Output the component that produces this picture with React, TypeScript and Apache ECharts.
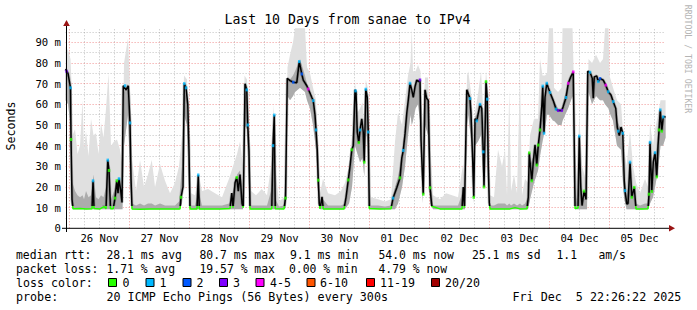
import React, { useEffect, useRef } from "react";
import * as echarts from "echarts";

// ---- time frame (hours from 26 Nov 00:00) ----
const startHour = -1.5667; // Nov 25 22:26
const endHour = 238.4333; // Dec 5 22:26
const dayLabels = ["26 Nov", "27 Nov", "28 Nov", "29 Nov", "30 Nov", "01 Dec", "02 Dec", "03 Dec", "04 Dec", "05 Dec"];
const dayLabelHours = [12, 36, 60, 84, 108, 132, 156, 180, 204, 228];
const dayStartHours = [0, 24, 48, 72, 96, 120, 144, 168, 192, 216];
const yTickValues = [0, 10, 20, 30, 40, 50, 60, 70, 80, 90];
const yTickLabels = ["0", "10 m", "20 m", "30 m", "40 m", "50 m", "60 m", "70 m", "80 m", "90 m"];
const yMax = 96.8;

// ---- median rtt (ms) ----
const medH = [
  -1.57, -0.6, 0.4, 0.6, 1.0, 1.4, 4.2, 6.6, 9.0, 9.4, 9.8, 12.2, 13.8, 14.6, 15.3, 15.8, 16.4, 17.5, 18.2, 18.9,
  19.4, 19.8, 20.5, 21.0, 21.5, 22.6, 23.5, 24.2, 24.6, 25.0, 28.2, 32.2, 36.2, 40.2, 44.2, 44.6, 45.4, 45.9, 46.6, 47.3,
  47.8, 48.2, 51.0, 51.5, 51.9, 56.2, 60.2, 64.2, 64.9, 65.4, 66.2, 66.9, 67.5, 68.2, 69.0, 69.5, 70.2, 70.9, 71.3, 71.8,
  72.2, 76.2, 80.2, 80.9, 81.4, 81.9, 82.3, 85.8, 86.4, 87.1, 88.2, 89.5, 90.9, 91.9, 92.9, 93.5, 94.9, 95.5, 96.9, 97.5,
  98.2, 98.6, 99.1, 99.5, 99.9, 100.2, 101.0, 101.5, 105.4, 109.8, 110.6, 111.5, 112.2, 112.9, 113.5, 114.2, 114.6, 115.1, 115.7, 116.2,
  116.9, 117.5, 117.9, 118.5, 119.1, 119.5, 119.9, 124.2, 128.6, 129.4, 130.9, 132.2, 132.9, 133.5, 134.2, 134.9, 135.5, 136.2, 136.9, 137.5,
  138.2, 138.9, 139.5, 140.2, 140.6, 141.5, 142.2, 142.9, 143.5, 144.2, 144.9, 148.2, 152.2, 157.0, 157.5, 158.0, 158.9, 160.2, 160.6, 161.3,
  161.7, 162.2, 162.9, 164.2, 164.9, 165.5, 165.8, 166.6, 167.1, 167.5, 167.9, 168.2, 172.2, 176.2, 178.2, 180.2, 183.0, 183.5, 183.9, 184.9,
  185.5, 186.2, 186.9, 187.5, 188.2, 188.9, 189.3, 189.8, 190.2, 190.9, 191.5, 192.2, 193.5, 194.6, 195.5, 196.9, 197.5, 198.6, 199.5, 200.5,
  201.5, 201.9, 202.2, 203.4, 203.9, 204.5, 205.0, 205.8, 206.6, 207.3, 208.2, 209.1, 209.5, 209.9, 210.9, 211.5, 212.2, 213.5, 214.5, 215.5,
  216.6, 217.5, 218.5, 219.1, 219.9, 220.6, 221.3, 221.9, 222.2, 222.9, 223.4, 224.2, 224.9, 225.9, 226.6, 229.0, 231.4, 231.8, 232.2, 232.9,
  233.5, 234.2, 234.9, 235.4, 235.8, 236.3, 236.9, 237.5, 238.43,
];
const medV = [
  77, 75, 68, 43, 14, 9.5, 9.6, 9.3, 9.5, 23, 9.6, 9.4, 10.5, 9.4, 33, 28, 9.5, 9.5, 14.6, 23,
  17, 24, 18, 12.5, 69, 67, 69, 51, 24, 9.4, 9.2, 9.3, 9.3, 9.4, 9.4, 15, 20, 70, 68, 60,
  37, 9.4, 9.4, 25.8, 9.4, 9.3, 9.4, 9.6, 17, 10, 22, 24.6, 18, 26, 12, 10, 70, 67, 50, 37,
  9.4, 9.3, 9.3, 9.5, 40, 54.8, 9.5, 9.4, 14.6, 72.6, 71.5, 70.7, 70.5, 80.7, 74.7, 71.7, 69, 67.4, 63.4, 61.8,
  54.8, 47.6, 38, 23.3, 12, 9.4, 15.2, 9.4, 9.3, 9.4, 15, 23.4, 30, 38, 40, 67, 66, 46.6, 41.5, 47.6,
  53, 46.5, 32, 67.3, 63.4, 46.6, 9.6, 9.3, 9.5, 14.6, 19.6, 24.4, 34, 37.7, 45.7, 55.8, 62, 70.2, 67, 63.4,
  68.6, 71.8, 71, 71.8, 42.6, 16.5, 67, 62.8, 62, 19.6, 10.7, 9.4, 9.3, 9.4, 20, 10, 67, 62.8, 55, 32,
  15, 53, 52, 60, 58, 37, 20, 71, 62.5, 30, 12.5, 9.4, 9.3, 9.4, 10, 9.4, 9.5, 15, 36.5, 23,
  32, 40.4, 30.6, 40.3, 47.6, 59, 68.8, 46, 63.5, 70.2, 68, 65.7, 61.8, 57.7, 57, 57, 59, 63.3, 70.2, 73.3,
  75.7, 40, 9.6, 9.8, 44.6, 20, 11, 18, 14, 76, 75.5, 72.6, 63, 73.3, 73.8, 71, 72.5, 71.7, 69.3, 66.1,
  64.5, 61.3, 58, 49, 44.9, 49, 46, 23, 18.2, 11.8, 12, 32, 15, 19.8, 9.4, 9.3, 9.5, 16.5, 41.6, 17.8,
  32, 36.6, 24.9, 40, 47.6, 57.3, 47, 53.9, 54,
];

// ---- smoke (spread of the 20 pings, ms) ----
const smokeH = [
  -1.57, -0.6, 0.4, 0.8, 1.2, 2.2, 3.2, 4.2, 5.2, 5.8,
  6.6, 7.6, 8.6, 9.6, 10.6, 11.6, 12.6, 13.6, 14.6, 15.6,
  16.6, 17.8, 19.0, 20.2, 21.2, 21.8, 23.4, 24.4, 25.0, 26.6,
  28.2, 29.8, 31.4, 32.9, 34.2, 36.2, 38.2, 40.2, 42.2, 43.8,
  45.0, 45.8, 47.0, 48.0, 48.6, 50.2, 51.6, 53.0, 55.4, 58.2,
  61.0, 63.8, 65.4, 67.0, 68.2, 69.4, 70.0, 71.0, 72.0, 72.6,
  74.6, 76.9, 79.0, 80.6, 81.6, 82.4, 83.8, 85.8, 86.6, 87.2,
  88.2, 89.4, 90.2, 92.2, 94.2, 95.0, 96.2, 97.4, 98.6, 99.6,
  100.2, 101.4, 103.4, 106.2, 108.6, 110.2, 111.8, 113.0, 114.2, 115.2,
  116.2, 117.2, 117.9, 118.5, 119.3, 120.0, 120.6, 123.4, 126.2, 128.6,
  130.2, 131.4, 133.0, 134.2, 135.4, 136.4, 136.9, 137.4, 138.4, 139.4,
  140.4, 141.2, 142.2, 143.4, 144.4, 145.4, 148.2, 150.6, 153.0, 155.4,
  157.4, 158.2, 159.0, 159.5, 160.9, 161.6, 162.2, 163.4, 164.6, 165.6,
  166.6, 167.4, 168.2, 169.8, 171.4, 173.0, 174.2, 175.0, 175.9, 176.6,
  177.8, 179.0, 180.2, 181.0, 182.2, 183.4, 184.2, 185.8, 187.4, 188.2,
  189.2, 190.2, 191.0, 191.8, 193.4, 193.8, 195.4, 196.8, 197.2, 199.4,
  201.2, 201.6, 202.2, 203.0, 203.9, 205.0, 206.2, 207.0, 207.6, 209.0,
  210.6, 212.2, 213.4, 214.2, 215.6, 216.0, 217.4, 219.0, 220.6, 221.8,
  222.8, 224.2, 225.4, 226.6, 228.2, 230.2, 231.4, 232.2, 233.4, 234.2,
  235.4, 236.4, 237.4, 238.43,
];
const smokeLow = [
  62, 60, 50, 12, 9.2, 9.2, 9.2, 9.2, 9.2, 9.2,
  9.2, 9.2, 9.2, 9.2, 9.2, 9.2, 9.2, 9.2, 9.2, 9.2,
  9.2, 9.2, 9.2, 9.2, 9.2, 40, 55, 20, 9.2, 9.2,
  9.2, 9.2, 9.2, 9.2, 9.2, 9.2, 9.2, 9.2, 9.2, 9.2,
  12, 55, 50, 10, 9.2, 9.2, 9.2, 9.2, 9.2, 9.2,
  9.2, 9.2, 9.2, 9.2, 9.2, 9.2, 50, 48, 12, 9.2,
  9.2, 9.2, 9.2, 9.2, 9.2, 9.2, 9.2, 9.2, 10, 64,
  62, 64, 66, 68, 66, 62, 58, 50, 38, 12,
  9.2, 9.2, 9.2, 9.2, 9.2, 9.2, 12, 20, 40, 36,
  32, 34, 25, 50, 40, 9.2, 9.2, 9.2, 9.2, 9.2,
  9.2, 12, 20, 30, 45, 55, 50, 52, 58, 60,
  50, 12, 50, 45, 12, 9.2, 9.2, 9.2, 9.2, 9.2,
  9.2, 9.2, 50, 55, 40, 12, 40, 42, 45, 20,
  55, 30, 9.2, 9.2, 9.2, 9.2, 9.2, 9.2, 9.2, 9.2,
  9.2, 9.2, 9.2, 9.2, 9.2, 9.2, 14, 22, 28, 35,
  42, 48, 55, 55, 52, 52, 50, 50, 52, 58,
  64, 60, 9.2, 9.2, 9.2, 9.2, 9.2, 9.2, 66, 60,
  64, 62, 62, 60, 58, 56, 52, 40, 38, 15,
  9.2, 9.2, 9.2, 9.2, 9.2, 9.2, 9.2, 12, 15, 20,
  28, 40, 40, 44,
];
const smokeMid = [
  78, 74, 66, 40, 22, 18, 16, 15, 16, 14,
  18, 15, 16, 26, 15, 14, 16, 15, 20, 34,
  14, 18, 24, 22, 14, 66, 70, 40, 12, 11,
  12, 11, 12, 12, 11, 12, 11, 11, 11, 13,
  30, 68, 62, 20, 11, 11, 18, 11, 11, 11,
  11, 12, 18, 26, 28, 16, 66, 62, 30, 11,
  11, 11, 11, 18, 40, 14, 10.5, 11, 25, 72,
  72, 74, 76, 82, 74, 70, 66, 62, 50, 25,
  11, 14, 11, 11, 11, 12, 25, 38, 60, 48,
  48, 50, 36, 64, 55, 20, 11, 11, 10.5, 11,
  20, 25, 36, 48, 60, 70, 67, 64, 70, 72,
  70, 30, 66, 62, 25, 11, 11, 11, 11, 11,
  18, 12, 66, 68, 56, 22, 54, 56, 60, 36,
  70, 50, 11, 11, 12, 12, 12, 11, 12, 11,
  12, 11, 12, 11, 12, 15, 30, 36, 40, 48,
  60, 64, 68, 66, 62, 62, 58, 58, 60, 70,
  74, 74, 20, 12, 35, 15, 14, 20, 76, 72,
  74, 72, 72, 70, 66, 66, 62, 52, 48, 25,
  14, 28, 18, 12, 11, 12, 12, 30, 28, 34,
  42, 55, 52, 54,
];
const smokeHigh = [
  88, 86, 82, 70, 45, 48, 36, 40, 62, 38,
  47, 35, 53, 45, 46, 36, 51, 44, 58, 75,
  40, 42, 43, 38, 30, 80, 92, 62, 33, 18,
  33, 20, 26, 33, 20, 31, 23, 17, 22, 30,
  45, 74, 72, 40, 17, 16, 27, 18, 19, 17,
  15, 24, 30, 36, 42, 30, 74, 72, 45, 18,
  16, 19, 16, 30, 60, 28, 13, 15, 40, 78,
  84, 90, 96.8, 96.8, 96.8, 78, 75, 68, 62, 36,
  17, 24, 17, 16, 18, 22, 30, 45, 71, 56,
  58, 61, 45, 72, 68, 40, 15, 14, 13, 14,
  42, 56, 50, 62, 74, 80, 96.8, 76, 76, 79,
  76, 50, 73, 73, 40, 16, 14, 17, 16, 15,
  31, 20, 74, 76, 63, 40, 56, 65, 76, 55,
  76, 65, 16, 15, 38, 30, 38, 16, 67, 18,
  26, 17, 74, 16, 24, 22, 45, 53, 53, 82,
  74, 74, 75, 96.8, 96.8, 68, 66, 68, 96.8, 96.8,
  96.8, 78, 40, 22, 55, 30, 25, 40, 82, 80,
  84, 80, 82, 96.8, 96.8, 74, 68, 62, 60, 40,
  30, 47, 30, 22, 17, 24, 20, 51, 40, 48,
  55, 62, 62, 62,
];

// ---- loss-coloured median points ----
const lossColors = ["#26ff00", "#00b8ff", "#0059ff", "#7e00ff", "#ff00ff", "#ff5500", "#ff0000", "#a10000"];
const lossLabels = ["0", "1", "2", "3", "4-5", "6-10", "11-19", "20/20"];
const lossH = [
  0.4, 9.4, 15.3, 19.8, 22.2, 24.2, 45.9, 46.6, 51.5, 70.9, 71.3, 81.4, 81.9, 91.9, 97.5, 98.6, 114.4, 116.2, 118.5, 119.5,
  129.4, 133.5, 136.2, 160.2, 162.9, 164.2, 165.5, 167.1, 189.3, 189.8, 190.9, 192.2, 194.6, 198.6, 203.9, 208.2, 211.5, 215.5, 217.5, 219.5,
  221.3, 222.2, 224.2, 232.2, 234.2, 236.3, 237.5,
  89.5, 212.2, 92.9,
  -1.2, 140.2, 195.5, 196.9,
  95.5, 199.5, 201.5, 214.5,
  0.6, 15.8, 18.2, 18.9, 44.6, 66.9, 86.4, 99.5, 111.5, 112.9, 115.7, 117.9, 132.2, 141.5, 144.2, 161.7, 165.8, 166.6, 183.9, 184.9,
  186.9, 187.5, 188.2, 205.8, 224.9, 225.9, 231.8, 232.9, 234.9, 235.8, 236.9,
];
const lossV = [
  68, 23, 33, 24, 69, 51, 70, 68, 25.8, 67, 50, 40, 54.8, 80.7, 61.8, 47.6, 66.5, 47.6, 67.3, 46.6,
  14.6, 37.7, 70.2, 62.8, 52, 60, 37, 62.5, 68.8, 46, 70.2, 65.7, 57.7, 63.3, 44.6, 75.5, 71, 66.1, 61.3, 47,
  46, 18.2, 32, 41.6, 36.6, 57.3, 53.9,
  70.7, 72.5, 74.7,
  76, 71.8, 57, 57,
  67.4, 70.2, 75.7, 69.3,
  43, 28, 14.6, 23, 15, 24.6, 14.6, 23.3, 23.4, 38, 41.5, 32, 24.4, 16.5, 19.6, 15, 20, 71, 36.5, 23,
  30.6, 40.3, 47.6, 18, 15, 19.8, 16.5, 17.8, 24.9, 47.6, 47,
];
const lossK = [
  1, 1, 1, 1, 1, 1, 1, 1, 1, 1, 1, 1, 1, 1, 1, 1, 1, 1, 1, 1,
  1, 1, 1, 1, 1, 1, 1, 1, 1, 1, 1, 1, 1, 1, 1, 1, 1, 1, 1, 1,
  1, 1, 1, 1, 1, 1, 1,
  2, 2, 2,
  3, 3, 3, 3,
  4, 4, 4, 4,
  0, 0, 0, 0, 0, 0, 0, 0, 0, 0, 0, 0, 0, 0, 0, 0, 0, 0, 0, 0,
  0, 0, 0, 0, 0, 0, 0, 0, 0, 0, 0,
];

// ---- legend texts ----
const statRtt: [string, number][] = [
  ["median rtt:", 16], ["28.1 ms avg", 106.5], ["80.7 ms max", 199.5], ["9.1 ms min", 290], ["54.0 ms now", 378.5],
  ["25.1 ms sd", 472], ["1.1", 556.5], ["am/s", 598.5],
];
const statLoss: [string, number][] = [
  ["packet loss:", 16], ["1.71 % avg", 106.5], ["19.57 % max", 199.5], ["0.00 % min", 289], ["4.79 % now", 378.5],
];
const lossBoxX = [108.5, 146, 183, 219.5, 256, 307, 366.5, 431.5];
const lossTextX = [122.5, 159.5, 196.5, 233, 270, 320, 380, 445];

const MONO = '"DejaVu Sans Mono", monospace';

export default function App() {
  const ref = useRef<HTMLDivElement>(null);
  useEffect(() => {
    document.body.style.margin = "0";
    if (!ref.current) return;
    const chart = echarts.init(ref.current, undefined, { renderer: "svg" });

    const med = medH.map((h, i) => [h, medV[i]]);
    const loss = lossH.map((h, i) => ({ value: [h, lossV[i]], itemStyle: { color: lossColors[lossK[i]] } }));

    const redGrid = { color: "rgba(230,60,60,0.55)", width: 1, type: [1, 2] };
    const grayGrid = { color: "rgba(140,140,140,0.55)", width: 1, type: [1, 2] };
    const sixHour: number[] = [];
    for (let h = 6; h < endHour; h += 6) if (h % 24 !== 0) sixHour.push(h);
    const gridLines: any[] = [];
    sixHour.forEach((h) => gridLines.push({ xAxis: h, lineStyle: grayGrid }));
    dayStartHours.forEach((h) => gridLines.push({ xAxis: h, lineStyle: redGrid }));
    for (let v = 5; v < yMax; v += 10) gridLines.push({ yAxis: v, lineStyle: grayGrid });
    yTickValues.filter((v) => v > 0).forEach((v) => gridLines.push({ yAxis: v, lineStyle: redGrid }));

    // smoke band polygon through the axes' scales
    const band = (upper: number[], fill: string) => (params: any, api: any) => {
      if (params.dataIndex !== 0) return null;
      const top = smokeH.map((h, i) => api.coord([h, upper[i]]));
      const bottom = smokeH.map((h, i) => api.coord([h, smokeLow[i]])).reverse();
      return {
        type: "polygon",
        shape: { points: top.concat(bottom) },
        style: { fill, stroke: null },
        silent: true,
      };
    };

    const txt = (text: string, x: number, y: number, size: number, extra: any = {}) => ({
      type: "text",
      x,
      y,
      z: 100,
      style: {
        text,
        font: `${size}px ${MONO}`,
        fill: "#000",
        align: "left",
        textAlign: "left",
        verticalAlign: "middle",
        textVerticalAlign: "middle",
        ...extra,
      },
    });

    const lineBase = { type: "line", symbol: "none", smooth: false, silent: true };

    chart.setOption({
      animation: false,
      backgroundColor: "#ffffff",
      grid: { left: 65.6, top: 28.3, width: 600, height: 200, containLabel: false },
      xAxis: {
        type: "value",
        min: startHour,
        max: endHour,
        axisLine: { show: false },
        axisTick: { show: false },
        splitLine: { show: false },
        axisLabel: { show: false },
      },
      yAxis: {
        type: "value",
        min: 0,
        max: yMax,
        axisLine: { show: false },
        axisTick: { show: false },
        splitLine: { show: false },
        axisLabel: { show: false },
      },
      visualMap: [
        {
          type: "piecewise",
          show: false,
          seriesIndex: 4,
          dimension: 1,
          pieces: [
            { gte: -100, lt: 10.8, color: "#26ff00" },
            { gte: 10.8, lte: 1000, color: "#000000" },
          ],
          outOfRange: { color: "#000000" },
        },
        {
          type: "piecewise",
          show: false,
          seriesIndex: 3,
          dimension: 1,
          pieces: [
            { gte: -100, lt: 10.8, color: "rgba(0,0,0,0)" },
            { gte: 10.8, lte: 1000, color: "rgba(50,50,50,0.3)" },
          ],
          outOfRange: { color: "rgba(50,50,50,0.3)" },
        },
      ],
      series: [
        {
          ...lineBase,
          name: "grid",
          data: [[startHour, 0]],
          z: 1,
          lineStyle: { width: 0, opacity: 0 },
          markLine: { silent: true, z: 1, symbol: ["none", "none"], label: { show: false }, data: gridLines },
        },
        {
          type: "custom",
          name: "smokeOuter",
          coordinateSystem: "cartesian2d",
          data: [[smokeH[0], smokeHigh[0]]],
          renderItem: band(smokeHigh, "#e0e0e0"),
          z: 2,
          silent: true,
        },
        {
          type: "custom",
          name: "smokeMid",
          coordinateSystem: "cartesian2d",
          data: [[smokeH[0], smokeMid[0]]],
          renderItem: band(smokeMid, "#acacac"),
          z: 2,
          silent: true,
        },
        { ...lineBase, name: "medianShadow", data: med, z: 3, lineStyle: { width: 3 } },
        { ...lineBase, name: "median", data: med, z: 4, lineStyle: { width: 1.5 } },
        {
          type: "scatter",
          name: "loss",
          data: loss,
          z: 5,
          silent: true,
          symbol: "rect",
          symbolSize: [2.5, 3],
        },
      ],
    });

    // texts and axis decorations, tick labels placed through the axes' scales
    const graphics: any[] = [
      txt("Last 10 Days from sanae to IPv4", 347.5, 19, 13.2, { align: "center", textAlign: "center" }),
      { ...txt("Seconds", 11, 126, 11.6, { align: "center", textAlign: "center" }), rotation: Math.PI / 2 },
      {
        ...txt("RRDTOOL / TOBI OETIKER", 688, 59, 8.2, { align: "center", textAlign: "center", fill: "#b4b4b4" }),
        rotation: -Math.PI / 2,
      },
      { type: "line", z: 100, shape: { x1: 62, y1: 228.3, x2: 670, y2: 228.3 }, style: { stroke: "#000", lineWidth: 1 } },
      { type: "line", z: 100, shape: { x1: 66.5, y1: 232, x2: 66.5, y2: 25 }, style: { stroke: "#000", lineWidth: 1 } },
      { type: "polygon", z: 101, shape: { points: [[669, 225], [675, 228.3], [669, 231.6]] }, style: { fill: "#9a1414" } },
      { type: "polygon", z: 101, shape: { points: [[63.2, 26], [66.5, 20], [69.8, 26]] }, style: { fill: "#9a1414" } },
    ];
    dayLabelHours.forEach((h, i) => {
      const p = chart.convertToPixel({ gridIndex: 0 }, [h, 0]) as number[];
      graphics.push(txt(dayLabels[i], p[0], p[1] + 9.5, 10.6, { align: "center", textAlign: "center" }));
    });
    yTickValues.forEach((v, i) => {
      const p = chart.convertToPixel({ gridIndex: 0 }, [startHour, v]) as number[];
      graphics.push(txt(yTickLabels[i], 61, p[1], 10.6, { align: "right", textAlign: "right" }));
    });
    statRtt.forEach(([t, x]) => graphics.push(txt(t, x, 255, 11.4)));
    statLoss.forEach(([t, x]) => graphics.push(txt(t, x, 268.8, 11.4)));
    graphics.push(txt("loss color:", 16, 282.6, 11.6));
    lossLabels.forEach((l, i) => {
      graphics.push({
        type: "rect",
        z: 100,
        shape: { x: lossBoxX[i], y: 278.5, width: 8, height: 8 },
        style: { fill: lossColors[i], stroke: "#000", lineWidth: 1 },
      });
      graphics.push(txt(l, lossTextX[i], 282.6, 11.6));
    });
    graphics.push(txt("probe:", 16, 296.6, 11.7));
    graphics.push(txt("20 ICMP Echo Pings (56 Bytes) every 300s", 106.5, 296.6, 11.7));
    graphics.push(txt("Fri Dec \u00a05 22:26:22 2025", 512.5, 296.6, 11.7));

    chart.setOption({ graphic: graphics });

    return () => chart.dispose();
  }, []);
  return <div ref={ref} style={{ width: 697, height: 310 }} />;
}
